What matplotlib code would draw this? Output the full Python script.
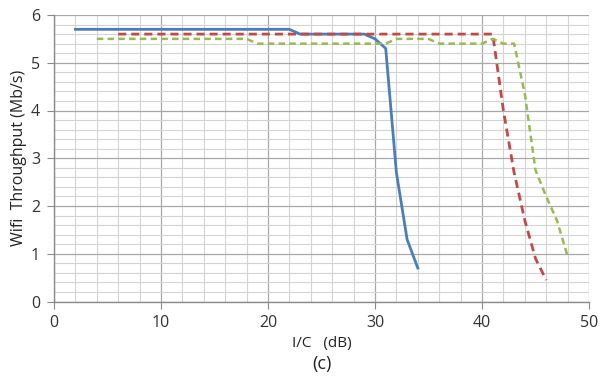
import numpy as np
import matplotlib
matplotlib.use("Agg")
import matplotlib.pyplot as plt
from matplotlib.ticker import MultipleLocator

plt.rcParams['font.family'] = ['Open Sans', 'DejaVu Sans']

# blue (solid)
x_blue = list(range(2, 35))
y_blue = [5.7] * 21 + [5.6] * 7 + [5.5, 5.3, 2.7, 1.3, 0.7]

# red (long dash)
x_red = list(range(6, 47))
y_red = [5.6] * 36 + [4.0, 2.7, 1.7, 0.9, 0.45]

# green (short dash)
x_green = list(range(4, 49))
y_green = ([5.5] * 15 + [5.4] * 13 + [5.5] * 4 + [5.4] * 5 +
           [5.5, 5.4, 5.4, 4.35, 2.75, 2.2, 1.7, 0.95])

fig = plt.figure(figsize=(6.03, 3.81), dpi=100)
ax = fig.add_axes([54/603, 1 - 301.5/381, 535/603, 286.5/381])

ax.plot(x_blue, y_blue, color='#4a7ebb', lw=2.0, solid_joinstyle='round')
ax.plot(x_red, y_red, color='#be4b48', lw=2.0, dashes=(2.9, 1.8))
ax.plot(x_green, y_green, color='#98b954', lw=1.8, dashes=(2.6, 1.7))

ax.set_xlim(0, 50)
ax.set_ylim(0, 6)
ax.xaxis.set_major_locator(MultipleLocator(10))
ax.xaxis.set_minor_locator(MultipleLocator(2))
ax.yaxis.set_major_locator(MultipleLocator(1))
ax.yaxis.set_minor_locator(MultipleLocator(0.2))

ax.grid(which='major', color='#a8a8a8', lw=0.9)
ax.grid(which='minor', color='#d4d4d4', lw=0.8)
ax.set_axisbelow(True)

for s in ['top', 'right']:
    ax.spines[s].set_visible(False)
for s in ['left', 'bottom']:
    ax.spines[s].set_color('#8a8a8a')
    ax.spines[s].set_linewidth(1.0)

ax.tick_params(which='major', length=5, color='#8a8a8a', labelsize=11.5,
               labelcolor='#333333', pad=5)
ax.tick_params(which='minor', length=0)

ax.set_ylabel('Wifi  Throughput (Mb/s)', fontsize=11.5, color='#222222', labelpad=3)
ax.set_xlabel('I/C   (dB)', fontsize=11, color='#222222', labelpad=3)
fig.text(0.5 * (54 + 589) / 603, 1 - 364/381, '(c)', ha='center', va='center',
         fontsize=13, color='#222222')

fig.savefig('out.png', dpi=100)
